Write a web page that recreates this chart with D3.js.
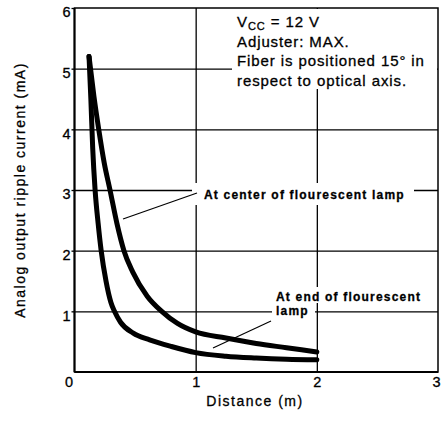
<!DOCTYPE html>
<html>
<head>
<meta charset="utf-8">
<script src="https://cdn.jsdelivr.net/npm/d3@7"></script>
<style>
  body { margin: 0; background: #fff; }
  svg { display: block; font-family: "Liberation Sans", Arial, sans-serif; }
  text { stroke: #000; stroke-width: 0.3px; }
</style>
</head>
<body>
<svg id="chart" width="441" height="423"></svg>
<script>
// values
const xTicks = [0, 1, 2, 3];
const yTicks = [0, 1, 2, 3, 4, 5, 6];

const centerX = [0.12, 0.16, 0.2, 0.245, 0.293, 0.35, 0.408, 0.48, 0.6, 0.72, 0.85, 1.0, 1.25, 1.5, 1.75, 2.0];
const centerY = [5.2, 4.55, 4.0, 3.45, 3.0, 2.45, 2.0, 1.65, 1.25, 1.0, 0.8, 0.66, 0.56, 0.47, 0.4, 0.33];

const endX = [0.12, 0.135, 0.15, 0.17, 0.195, 0.22, 0.26, 0.3, 0.33, 0.38, 0.485, 0.62, 0.8, 1.0, 1.25, 1.5, 1.75, 2.0];
const endY = [5.2, 4.5, 3.7, 3.0, 2.45, 2.0, 1.5, 1.15, 1.0, 0.82, 0.64, 0.53, 0.42, 0.32, 0.26, 0.23, 0.21, 0.2];

const noteLines = ["Adjuster: MAX.", "Fiber is positioned 15° in", "respect to optical axis."];

const svg = d3.select("#chart");
const mLeft = 74.5, mRight = 438, mTop = 8, mBottom = 372;

const x = d3.scaleLinear().domain([0, 3]).range([mLeft, mRight]);
const y = d3.scaleLinear().domain([0, 6]).range([mBottom, mTop]);

// grid
svg.append("g")
  .attr("transform", `translate(0,${mBottom})`)
  .call(d3.axisBottom(x).tickValues([1, 2]).tickSize(-(mBottom - mTop)).tickFormat(""))
  .call(g => g.select(".domain").remove())
  .selectAll("line").attr("stroke", "#000").attr("stroke-width", 1.3);

svg.append("g")
  .attr("transform", `translate(${mLeft},0)`)
  .call(d3.axisLeft(y).tickValues([1, 2, 3, 4, 5]).tickSize(-(mRight - mLeft)).tickFormat(""))
  .call(g => g.select(".domain").remove())
  .selectAll("line").attr("stroke", "#000").attr("stroke-width", 1.3);

// tick labels
svg.append("g")
  .attr("transform", `translate(${mLeft},0)`)
  .call(d3.axisLeft(y).tickValues(yTicks.slice(1)).tickFormat(d3.format("d")).tickSize(3).tickPadding(1))
  .call(g => g.select(".domain").remove())
  .call(g => g.selectAll("line").attr("stroke", "#000").attr("stroke-width", 1.3))
  .call(g => g.selectAll("text")
    .attr("dy", "0.6em")
    .attr("font-size", 14.5)
    .attr("font-family", "Liberation Sans, Arial, sans-serif")
    .attr("fill", "#000"));

svg.append("g")
  .attr("transform", `translate(0,${mBottom})`)
  .call(d3.axisBottom(x).tickValues(xTicks).tickFormat(d3.format("d")).tickSize(0).tickPadding(5))
  .call(g => g.select(".domain").remove())
  .call(g => g.selectAll("text")
    .attr("font-size", 14.5)
    .attr("font-family", "Liberation Sans, Arial, sans-serif")
    .attr("fill", "#000"))
  .call(g => g.selectAll(".tick").filter(d => d === 0).select("text").attr("dx", -6))
  .call(g => g.selectAll(".tick").filter(d => d === 3).select("text").attr("dx", -2));

// white areas behind the notes
svg.append("rect").attr("x", 232).attr("y", mTop + 1).attr("width", mRight - 233).attr("height", 80).attr("fill", "#fff");
svg.append("rect").attr("x", 192).attr("y", 183).attr("width", 222).attr("height", 22).attr("fill", "#fff");
svg.append("rect").attr("x", 272).attr("y", 287).attr("width", 154).attr("height", 16).attr("fill", "#fff");
svg.append("rect").attr("x", 272).attr("y", 303).attr("width", 43).attr("height", 16).attr("fill", "#fff");

// frame
svg.append("rect")
  .attr("x", mLeft).attr("y", mTop)
  .attr("width", mRight - mLeft).attr("height", mBottom - mTop)
  .attr("fill", "none").attr("stroke", "#000").attr("stroke-width", 1.5);
svg.append("line").attr("x1", mLeft).attr("x2", mLeft).attr("y1", mTop).attr("y2", mBottom)
  .attr("stroke", "#000").attr("stroke-width", 2);
svg.append("line").attr("x1", mLeft).attr("x2", mRight).attr("y1", mBottom).attr("y2", mBottom)
  .attr("stroke", "#000").attr("stroke-width", 2);

// curves
const line = d3.line()
  .x(d => x(d[0]))
  .y(d => y(d[1]))
  .curve(d3.curveMonotoneX);

[[centerX, centerY], [endX, endY]].forEach(([xs, ys]) => {
  svg.append("path")
    .datum(xs.map((v, i) => [v, ys[i]]))
    .attr("d", line)
    .attr("fill", "none")
    .attr("stroke", "#000")
    .attr("stroke-width", 5)
    .attr("stroke-linecap", "round")
    .attr("stroke-linejoin", "round");
});

// leader lines
svg.append("line").attr("x1", 123).attr("y1", 219).attr("x2", 197).attr("y2", 193)
  .attr("stroke", "#000").attr("stroke-width", 1.2);
svg.append("line").attr("x1", 213).attr("y1", 348).attr("x2", 271).attr("y2", 321)
  .attr("stroke", "#000").attr("stroke-width", 1.2);

// labels on curves
const lab = svg.append("g")
  .attr("font-size", 12)
  .attr("font-weight", "bold")
  .attr("letter-spacing", 1.2)
  .attr("fill", "#000");
lab.append("text").attr("x", 204).attr("y", 199).text("At center of flourescent lamp");
lab.append("text").attr("x", 276).attr("y", 301).text("At end of flourescent");
lab.append("text").attr("x", 276).attr("y", 315).text("lamp");

// condition note
const note = svg.append("g")
  .attr("font-size", 15)
  .attr("letter-spacing", 0.9)
  .attr("fill", "#000");
const vcc = note.append("text").attr("x", 237).attr("y", 27);
vcc.append("tspan").text("V");
vcc.append("tspan").attr("font-size", 11).attr("dy", 3).text("CC");
vcc.append("tspan").attr("dy", -3).text(" = 12 V");
noteLines.forEach((t, i) => {
  note.append("text").attr("x", 237).attr("y", 46.5 + i * 19.5).text(t);
});

// axis titles
svg.append("text")
  .attr("x", 255).attr("y", 406)
  .attr("text-anchor", "middle")
  .attr("font-size", 14)
  .attr("letter-spacing", 1.5)
  .text("Distance (m)");

svg.append("text")
  .attr("transform", "translate(25,190) rotate(-90)")
  .attr("text-anchor", "middle")
  .attr("font-size", 14)
  .attr("letter-spacing", 1.5)
  .text("Analog output ripple current (mA)");
</script>
</body>
</html>
